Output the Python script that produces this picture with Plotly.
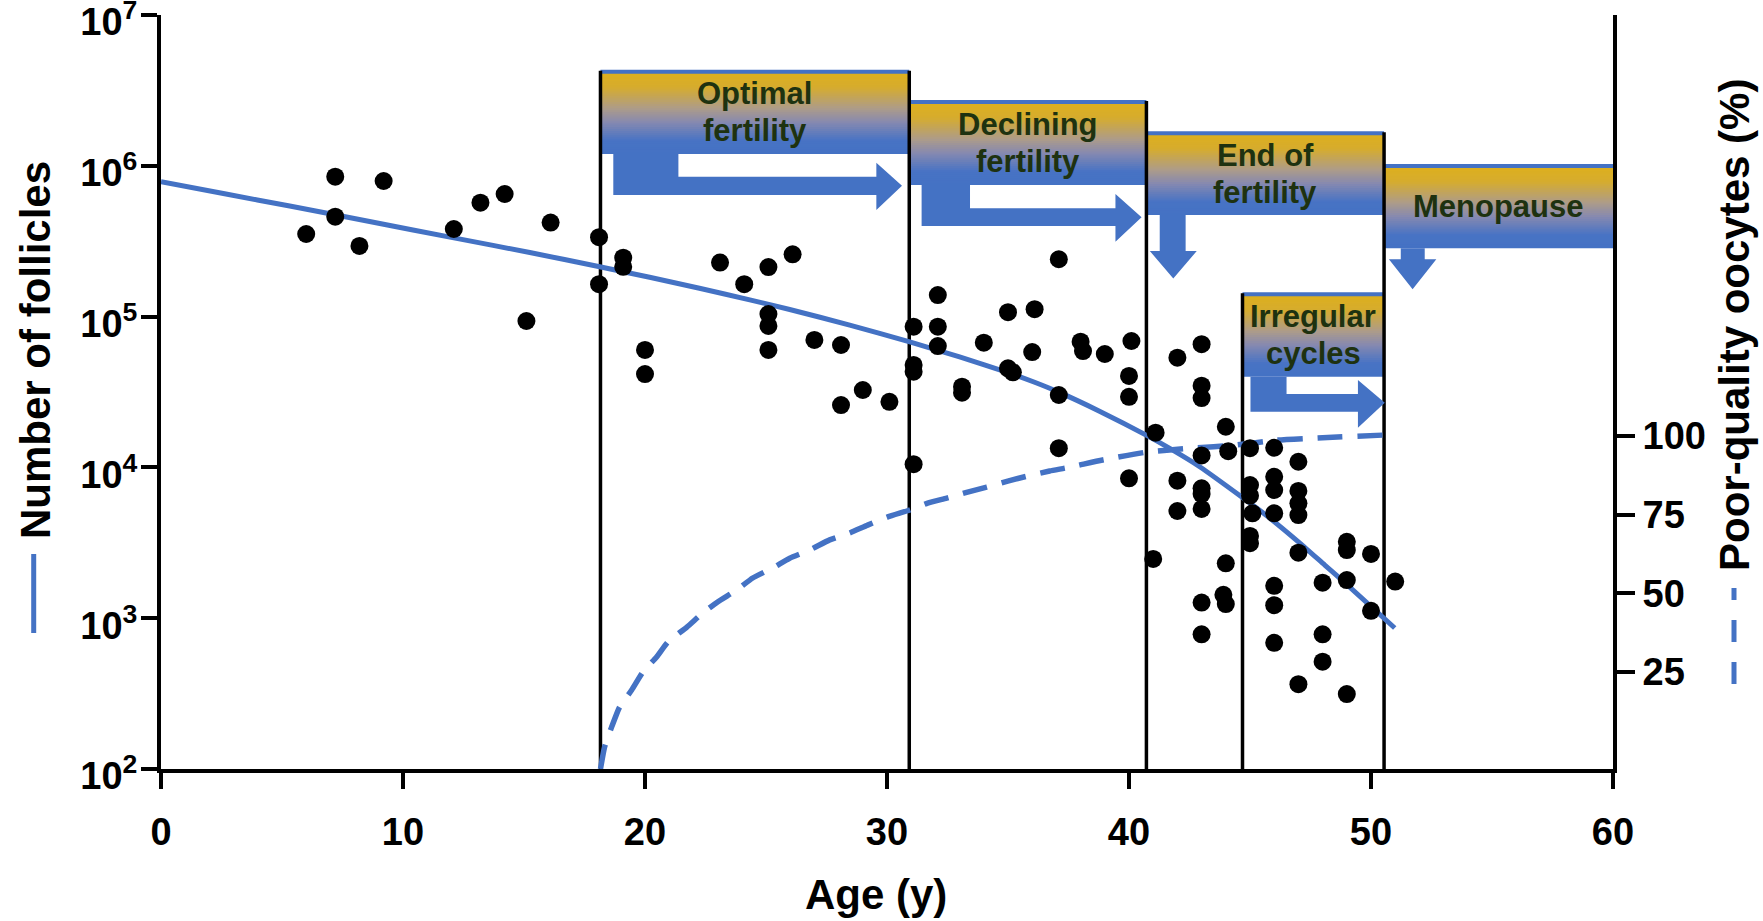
import plotly.graph_objects as go

# ------------------------------------------------------------------ data
# individual follicle counts (age in years, number of follicles)
point_age = [6.0, 7.2, 7.2, 8.2, 9.2, 12.1, 13.2, 14.2, 15.1, 16.1,
             18.1, 18.1, 19.1, 19.1, 20.0, 20.0, 23.1, 24.1, 25.1, 26.1,
             25.1, 25.1, 25.1, 27.0, 28.1, 28.1, 29.0, 30.1, 31.1, 31.1,
             31.1, 31.1, 32.1, 32.1, 32.1, 33.1, 33.1, 34.0, 35.0, 36.1,
             36.0, 35.0, 35.2, 37.1, 37.1, 37.1, 38.0, 38.1, 39.0, 40.1,
             40.0, 40.0, 40.0, 41.1, 41.0, 42.0, 43.0, 43.0, 43.0, 44.0,
             44.1, 43.0, 42.0, 43.0, 43.0, 42.0, 43.0, 44.0, 45.0, 46.0,
             47.0, 45.0, 45.0, 45.1, 46.0, 46.0, 46.0, 47.0, 47.0, 47.0,
             45.0, 45.0, 47.0, 49.0, 49.0, 50.0, 48.0, 49.0, 51.0, 43.0,
             43.9, 44.0, 46.0, 46.0, 50.0, 43.0, 46.0, 48.0, 48.0, 47.0,
             49.0]
point_follicles = [353000, 847000, 460000, 294000, 793000, 381000, 569000, 650000, 93500, 420000,
                   336000, 164000, 246000, 214000, 60100, 41600, 228000, 164000, 213000, 259000,
                   104000, 86700, 60100, 70000, 64800, 25900, 32600, 27200, 85700, 47800,
                   43100, 10500, 139000, 85700, 63800, 34300, 31300, 67100, 107000, 112000,
                   58200, 45400, 42700, 240000, 30200, 13400, 68200, 59100, 56500, 68900,
                   40400, 29400, 8470, 17000, 2470, 53400, 65600, 34800, 28800, 18600,
                   12800, 12000, 8160, 7270, 6660, 5140, 5300, 2310, 13400, 13500,
                   10900, 7640, 6490, 4960, 8670, 7080, 4960, 6980, 5780, 4830,
                   3510, 3140, 2720, 3210, 2830, 2670, 1720, 1790, 1750, 1270,
                   1430, 1240, 1640, 1220, 1120, 782, 687, 782, 515, 365,
                   314]

# fitted decline of follicle number (left axis)
curve_age = [0.0, 2.63, 5.32, 8.62, 12.21, 15.24, 18.13, 20.19, 22.25, 24.33,
             25.98, 28.46, 30.94, 33.0, 35.07, 36.1, 37.05, 38.78, 40.73, 41.81,
             42.92, 44.66, 45.82, 47.06, 48.09, 49.12, 50.98]
curve_follicles = [785000, 652000, 541000, 427000, 330000, 266000, 214000, 182400, 154200, 129100,
                   111400, 87900, 67900, 54100, 42200, 36700, 31800, 23600, 16300, 13000,
                   10100, 6360, 4610, 3150, 2250, 1610, 861]

# proportion of poor-quality oocytes (right axis, %)
poor_age = [18.16, 18.33, 18.62, 18.95, 19.45, 19.91, 20.48, 20.94, 21.73, 22.39,
            23.0, 23.79, 24.45, 25.28, 25.98, 26.81, 27.63, 28.46, 29.2, 30.03,
            30.94, 31.68, 32.47, 33.33, 34.12, 34.99, 35.82, 36.72, 37.55, 38.91,
            40.73, 42.63, 44.37, 46.1, 47.8, 50.49]
poor_pct = [-5.8, 1.2, 7.5, 13.9, 19.3, 25.0, 29.8, 34.5, 39.3, 43.8,
            47.3, 51.1, 54.9, 58.1, 61.2, 63.8, 67.0, 69.2, 71.7, 74.3,
            76.5, 78.7, 80.3, 82.2, 83.8, 85.7, 87.3, 88.9, 90.1, 92.4,
            94.9, 96.2, 97.1, 98.7, 99.4, 100.3]

# reproductive phases
phase_labels = [["Optimal", "fertility"], ["Declining", "fertility"], ["End of", "fertility"],
                ["Irregular", "cycles"], ["Menopause"]]
phase_start = [18.16, 30.92, 40.72, 44.69, 50.54]
phase_end = [30.92, 40.72, 50.54, 50.54, 60.0]

x_tickvals = [0, 10, 20, 30, 40, 50, 60]
y_tickvals = [1e2, 1e3, 1e4, 1e5, 1e6, 1e7]
y_ticktext = ["10<sup>2</sup>", "10<sup>3</sup>", "10<sup>4</sup>",
              "10<sup>5</sup>", "10<sup>6</sup>", "10<sup>7</sup>"]
y2_tickvals = [25, 50, 75, 100]

# ------------------------------------------------------------------ styling / geometry
W, H = 1763, 921
ML, MR, MT, MB = 161, 150, 15, 152
PH = H - MT - MB           # plot height in px
PW = W - ML - MR
BLUE = "#4472C4"
LABEL_GREEN = "#1E3210"
FONT = "Liberation Sans, Arial, sans-serif"


def pyp(py):
    """pixel row -> paper y"""
    return (H - MB - py) / PH


def pxp(px):
    """pixel column -> paper x"""
    return (px - ML) / PW


# box vertical extents (px rows) for each phase
box_top = [70.7, 101.0, 132.3, 293.3, 165.0]
box_bot = [154.0, 185.0, 215.0, 376.7, 248.3]

grad_stops = [(0.0, (222, 176, 28)), (0.2, (214, 172, 45)), (0.45, (174, 156, 136)),
              (0.62, (134, 137, 176)), (0.84, (72, 115, 196)), (1.0, (68, 114, 196))]


def grad(t):
    for (t0, c0), (t1, c1) in zip(grad_stops[:-1], grad_stops[1:]):
        if t <= t1:
            f = (t - t0) / (t1 - t0)
            c = [round(a + (b - a) * f) for a, b in zip(c0, c1)]
            return "rgb(%d,%d,%d)" % tuple(c)
    return "rgb(68,114,196)"


shapes = []
NSTRIP = 40
for i in range(len(phase_labels)):
    top, bot = box_top[i], box_bot[i]
    h = bot - top
    for k in range(NSTRIP):
        y_a = top + k * h / NSTRIP
        y_b = min(bot, top + (k + 1) * h / NSTRIP + 0.8)
        shapes.append(dict(type="rect", xref="x", yref="paper",
                           x0=phase_start[i], x1=phase_end[i], y0=pyp(y_b), y1=pyp(y_a),
                           line=dict(width=0), fillcolor=grad((k + 0.5) / NSTRIP), layer="below"))
    shapes.append(dict(type="line", xref="x", yref="paper", x0=phase_start[i], x1=phase_end[i],
                       y0=pyp(top + 1), y1=pyp(top + 1), line=dict(color=BLUE, width=4), layer="below"))

# black phase boundaries
for xv, top in [(phase_start[0], box_top[0]), (phase_end[0], box_top[0]), (phase_end[1], box_top[1]),
                (phase_start[3], box_top[3]), (phase_end[2], box_top[2])]:
    shapes.append(dict(type="line", xref="x", yref="paper", x0=xv, x1=xv, y0=0, y1=pyp(top),
                       line=dict(color="black", width=3.5), layer="below"))


def right_arrow(bx0, bx1, top, s_top, s_bot, h_base, tip, h_top, h_bot):
    mid = (s_top + s_bot) / 2
    pts = [(bx0, top), (bx1, top), (bx1, s_top), (h_base, s_top), (h_base, h_top), (tip, mid),
           (h_base, h_bot), (h_base, s_bot), (bx0, s_bot)]
    return "M " + " L ".join("%.3f,%.5f" % (x, pyp(y)) for x, y in pts) + " Z"


def down_arrow(sx0, sx1, top, h_y, hx0, hx1, tip_y):
    tipx = (hx0 + hx1) / 2
    pts = [(sx0, top), (sx1, top), (sx1, h_y), (hx1, h_y), (tipx, tip_y), (hx0, h_y), (sx0, h_y)]
    return "M " + " L ".join("%.3f,%.5f" % (x, pyp(y)) for x, y in pts) + " Z"


arrow_paths = [
    right_arrow(18.69, 21.38, box_bot[0], 176.7, 195.0, 29.56, 30.62, 162.7, 210.0),
    right_arrow(31.43, 33.43, box_bot[1], 208.3, 226.0, 39.44, 40.52, 194.0, 241.7),
    right_arrow(45.02, 46.51, box_bot[3], 394.0, 411.7, 49.46, 50.57, 380.0, 427.7),
    down_arrow(41.27, 42.34, box_bot[2], 251.0, 40.86, 42.80, 278.5),
    down_arrow(51.23, 52.22, box_bot[4], 259.3, 50.74, 52.70, 289.3),
]
for p in arrow_paths:
    shapes.append(dict(type="path", xref="x", yref="paper", path=p,
                       fillcolor=BLUE, line=dict(width=0), layer="below"))

# axis-title legend keys
shapes.append(dict(type="line", xref="paper", yref="paper", x0=pxp(33.7), x1=pxp(33.7),
                   y0=pyp(633), y1=pyp(554), line=dict(color=BLUE, width=5)))
shapes.append(dict(type="line", xref="paper", yref="paper", x0=pxp(1734), x1=pxp(1734),
                   y0=pyp(684), y1=pyp(588), line=dict(color=BLUE, width=5, dash="22px,20px")))

annotations = []
for i, lines in enumerate(phase_labels):
    xc = (phase_start[i] + phase_end[i]) / 2
    yc = (box_top[i] + box_bot[i]) / 2
    if len(lines) == 1:
        ys = [yc]
    else:
        ys = [yc - 18.5, yc + 18.5]
    for txt, yy in zip(lines, ys):
        annotations.append(dict(x=xc, y=pyp(yy), xref="x", yref="paper", text=txt, showarrow=False,
                                xanchor="center", yanchor="middle",
                                font=dict(family=FONT, size=31, color=LABEL_GREEN, weight="bold")))

title_font = dict(family=FONT, size=42, color="black", weight="bold")
annotations.append(dict(x=pxp(876), y=pyp(894), xref="paper", yref="paper", text="Age (y)",
                        showarrow=False, xanchor="center", yanchor="middle", font=title_font))
annotations.append(dict(x=pxp(35), y=pyp(350), xref="paper", yref="paper", text="Number of follicles",
                        textangle=-90, showarrow=False, xanchor="center", yanchor="middle", font=title_font))
annotations.append(dict(x=pxp(1734), y=pyp(325), xref="paper", yref="paper",
                        text="Poor-quality oocytes (%)", textangle=-90, showarrow=False,
                        xanchor="center", yanchor="middle", font=title_font))

# ------------------------------------------------------------------ figure
fig = go.Figure()
fig.add_trace(go.Scatter(x=curve_age, y=curve_follicles, mode="lines", yaxis="y",
                         line=dict(color=BLUE, width=5, shape="spline", smoothing=0.5),
                         hoverinfo="skip", showlegend=False))
fig.add_trace(go.Scatter(x=poor_age, y=poor_pct, mode="lines", yaxis="y2",
                         line=dict(color=BLUE, width=5.5, dash="25px,15px", shape="spline", smoothing=0.5),
                         hoverinfo="skip", showlegend=False))
fig.add_trace(go.Scatter(x=point_age, y=point_follicles, mode="markers", yaxis="y3",
                         marker=dict(color="black", size=18, line=dict(width=0)),
                         showlegend=False))

tick_font = dict(family=FONT, size=38, color="black", weight="bold")
fig.update_layout(
    width=W, height=H, autosize=False,
    margin=dict(l=ML, r=MR, t=MT, b=MB, pad=0, autoexpand=False),
    paper_bgcolor="white", plot_bgcolor="rgba(0,0,0,0)",
    font=dict(family=FONT, color="black"),
    showlegend=False,
    xaxis=dict(range=[0, 60], tickvals=x_tickvals, ticks="outside", ticklen=16, tickwidth=4,
               tickcolor="black", showline=True, linewidth=4, linecolor="black", automargin=False,
               showgrid=False, zeroline=False, tickfont=tick_font, ticklabelstandoff=10),
    yaxis=dict(type="log", range=[2, 7], tickvals=y_tickvals, ticktext=y_ticktext,
               ticks="outside", ticklen=16, tickwidth=4, tickcolor="black", automargin=False,
               showline=True, linewidth=4, linecolor="black", showgrid=False, zeroline=False,
               tickfont=tick_font, ticklabelstandoff=-4, ticklabelshift=7,
               ticklabeloverflow="allow"),
    yaxis2=dict(overlaying="y", side="right", anchor="x", range=[-5.8, 233.8], tickvals=y2_tickvals,
                ticks="outside", ticklen=18, tickwidth=4, tickcolor="black", automargin=False,
                showline=True, linewidth=4, linecolor="black", showgrid=False, zeroline=False,
                tickfont=tick_font),
    yaxis3=dict(overlaying="y", type="log", range=[2, 7], visible=False, automargin=False),
    shapes=shapes,
    annotations=annotations,
    hovermode=False,
)

fig.write_html("out.html", config={"displayModeBar": False})
